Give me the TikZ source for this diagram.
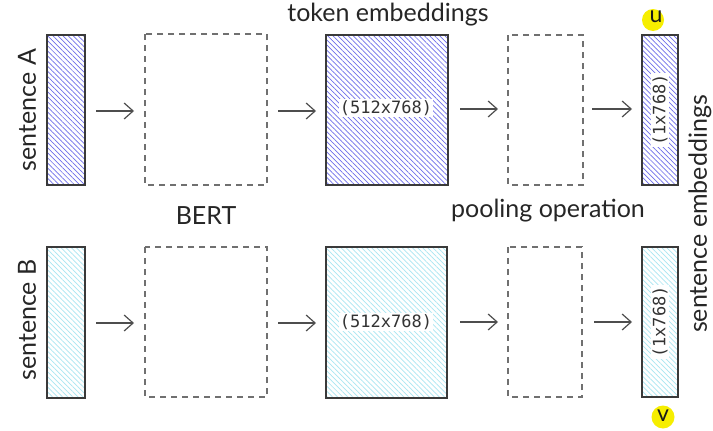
\documentclass[tikz,border=0pt]{standalone}
\usepackage{fontspec}
\setmainfont{Lato}
\newfontfamily\monofont{DejaVu Sans Mono}
\usetikzlibrary{patterns.meta,arrows.meta}
\definecolor{hatchA}{HTML}{6E6EEA}
\definecolor{hatchB}{HTML}{A8E6F2}
\definecolor{edge}{HTML}{3A3A3A}
\definecolor{dashgray}{HTML}{707070}
\definecolor{hilite}{HTML}{F6EE00}
\tikzset{
  x=1pt, y=-1pt,
  solidbox/.style={draw=edge, line width=1.4pt},
  hatchblue/.style={solidbox, pattern={Lines[angle=-45,distance=3.6pt,line width=0.7pt]}, pattern color=hatchA},
  hatchcyan/.style={solidbox, pattern={Lines[angle=-45,distance=3.6pt,line width=0.7pt]}, pattern color=hatchB},
  dashbox/.style={draw=dashgray, line width=1.1pt, dash pattern=on 6pt off 5pt},
  flow/.style={draw=edge!90, line width=1.2pt, -{Straight Barb[length=9pt,width=16pt,line width=1.2pt]}},
  lbl/.style={font=\fontsize{25}{30}\selectfont, text=black!85, inner sep=0pt},
  dims/.style={font=\monofont\fontsize{17}{19}\selectfont, text=black!80, fill=white, inner sep=1pt},
  vecname/.style={font=\fontsize{23}{25}\selectfont, text=black!90, inner sep=0pt}
}
\begin{document}
\begin{tikzpicture}
\useasboundingbox[fill=white] (0,0) rectangle (713,431);

% ---- row A ----
\path[hatchblue] (47,35) rectangle (85,185);
\draw[dashbox] (145,34) rectangle (267,185);
\path[hatchblue] (326,35) rectangle (448,185);
\draw[dashbox] (508,35) rectangle (583,185);
\path[hatchblue] (642,35) rectangle (678,185);

\node[dims] (tokA) at (386,108) {(512x768)};
\node[dims, rotate=90] (embA) at (660,110) {(1x768)};

\coordinate (a1s) at (96,111);  \coordinate (a1e) at (134,111);
\coordinate (a2s) at (278,111); \coordinate (a2e) at (316,111);
\coordinate (a3s) at (460,109); \coordinate (a3e) at (498,109);
\coordinate (a4s) at (592,109); \coordinate (a4e) at (632,109);
\draw[flow] (a1s) -- (a1e);
\draw[flow] (a2s) -- (a2e);
\draw[flow] (a3s) -- (a3e);
\draw[flow] (a4s) -- (a4e);

% ---- row B ----
\path[hatchcyan] (47,247) rectangle (85,398);
\draw[dashbox] (145,247) rectangle (267,397);
\path[hatchcyan] (326,247) rectangle (447,398);
\draw[dashbox] (508,247) rectangle (582,397);
\path[hatchcyan] (642,247) rectangle (678,397);

\node[dims] (tokB) at (386,322) {(512x768)};
\node[dims, rotate=90] (embB) at (660,322) {(1x768)};

\coordinate (b1s) at (96,323);  \coordinate (b1e) at (134,323);
\coordinate (b2s) at (278,323); \coordinate (b2e) at (316,323);
\coordinate (b3s) at (460,322); \coordinate (b3e) at (498,322);
\coordinate (b4s) at (594,322); \coordinate (b4e) at (632,322);
\draw[flow] (b1s) -- (b1e);
\draw[flow] (b2s) -- (b2e);
\draw[flow] (b3s) -- (b3e);
\draw[flow] (b4s) -- (b4e);

% ---- labels ----
\node[lbl] (tok) at (388,15) {token embeddings};
\node[lbl] (bert) at (206,216) {BERT};
\node[lbl] (pool) at (548,211) {pooling operation};
\node[lbl, rotate=90] (sA) at (27,110) {sentence A};
\node[lbl, rotate=90] (sB) at (27,320) {sentence B};
\node[lbl, rotate=90] (sE) at (700,214) {sentence embeddings};

% ---- highlighted vector names ----
\fill[hilite] (653,20) circle (11);
\node[vecname] (u) at (656,17) {u};
\fill[hilite] (663,417) circle (11.5);
\node[vecname] (v) at (663,416) {v};
\end{tikzpicture}
\end{document}
